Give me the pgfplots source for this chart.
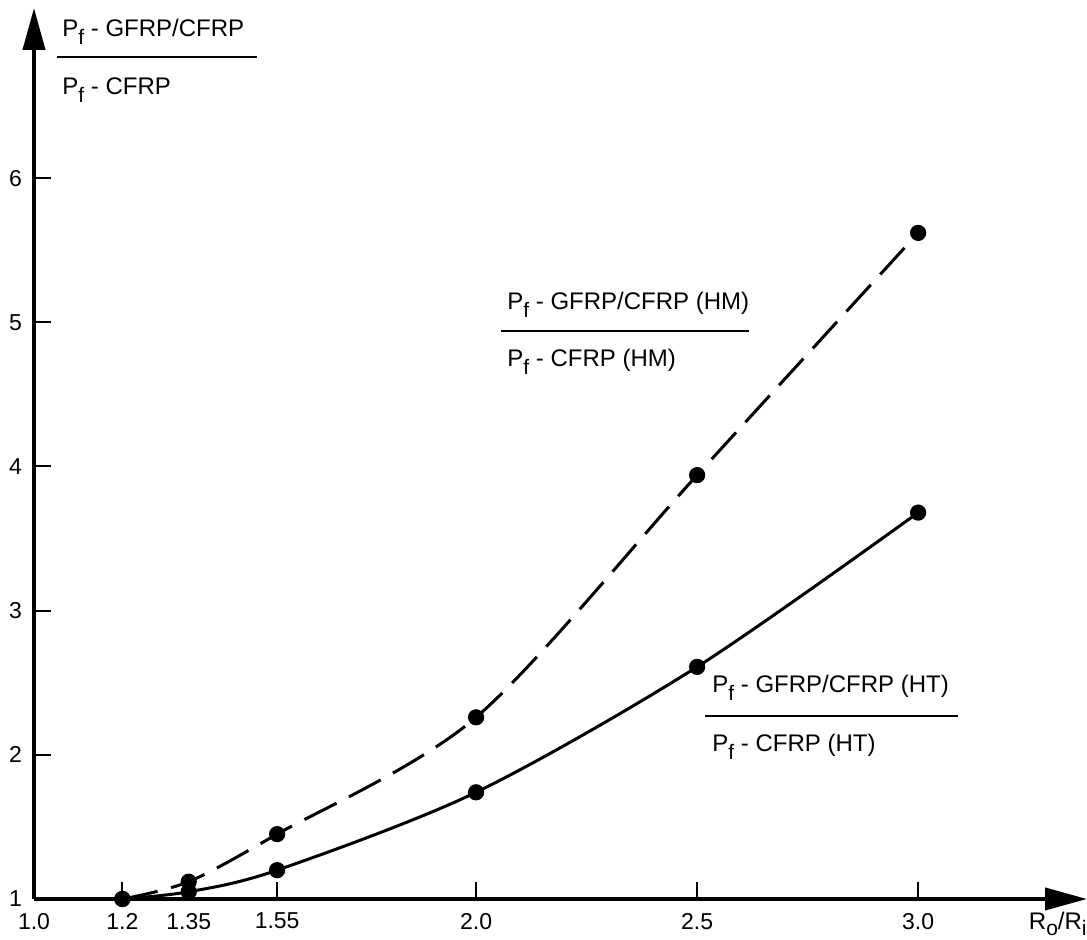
\documentclass[border=0pt]{standalone}
\usepackage{fontspec}
\setmainfont{Liberation Sans}
\usepackage{pgfplots}
\pgfplotsset{compat=1.18}
\usetikzlibrary{arrows.meta}

\newcommand{\sub}[1]{\raisebox{-4pt}{\fontsize{10.5}{12}\selectfont #1}}
\newcommand{\subx}[1]{\raisebox{-3pt}{\fontsize{10.5}{12}\selectfont #1}}

\pgfplotstableread{
x y
1.2 1.00
1.35 1.05
1.55 1.20
2.0 1.74
2.5 2.61
3.0 3.68
}\htdata
\pgfplotstableread{
x y
1.2 1.00
1.35 1.12
1.55 1.45
2.0 2.26
2.5 3.94
3.0 5.62
}\hmdata

\begin{document}
\begin{tikzpicture}[x=1pt,y=1pt]
\begin{axis}[
  at={(0,0)}, anchor=south west,
  scale only axis, width=526.5pt, height=445.5pt,
  xmin=1.0, xmax=3.382, ymin=1, ymax=7.18,
  axis lines=left,
  axis line style={line width=2pt, -{Triangle[length=21pt,width=11pt]}},
  xtick={1.0,1.2,1.35,1.55,2.0,2.5,3.0},
  xticklabels={1.0,1.2,1.35,1.55,2.0,2.5,3.0},
  ytick={1,2,3,4,5,6},
  yticklabels={1,2,3,4,5,6},
  tick align=inside,
  major tick length=8.5pt,
  tick style={line width=1pt, black},
  xticklabel style={font=\fontsize{11.5}{13}\selectfont, yshift=-3.5pt},
  yticklabel style={font=\fontsize{11.5}{13}\selectfont, xshift=-2.5pt},
  /pgf/number format/assume math mode=true,
  clip=false,
]
\addplot[black, line width=1.5pt, smooth, mark=*, mark size=3.3pt,
  mark options={solid}] table[x=x,y=y] {\htdata};
\addplot[black, line width=1.5pt, smooth, dash pattern=on 18pt off 7pt,
  mark=*, mark size=3.3pt, mark options={solid}] table[x=x,y=y] {\hmdata};
\end{axis}

\begin{scope}[font=\fontsize{12}{14}\selectfont]
% top y label
\node[anchor=base west, inner sep=0pt] at (14,431) {P\sub{f} - GFRP/CFRP};
\draw[line width=1pt] (11.5,421) -- (111.5,421);
\node[anchor=base west, inner sep=0pt] at (14,402) {P\sub{f} - CFRP};
% HM label
\node[anchor=base west, inner sep=0pt] at (236.5,294.5) {P\sub{f} - GFRP/CFRP (HM)};
\draw[line width=1pt] (233.5,284) -- (357.5,284);
\node[anchor=base west, inner sep=0pt] at (236.5,266) {P\sub{f} - CFRP (HM)};
% HT label
\node[anchor=base west, inner sep=0pt] at (339,103) {P\sub{f} - GFRP/CFRP (HT)};
\draw[line width=1pt] (335.5,91.5) -- (462,91.5);
\node[anchor=base west, inner sep=0pt] at (339,73.5) {P\sub{f} - CFRP (HT)};
% x label
\node[anchor=base east, inner sep=0pt] at (526.5,-15.5) {R\subx{o}/R\subx{i}};
\end{scope}

\pgfresetboundingbox
\path (-17,-20.5) rectangle (526.5,449.5);
\end{tikzpicture}
\end{document}
